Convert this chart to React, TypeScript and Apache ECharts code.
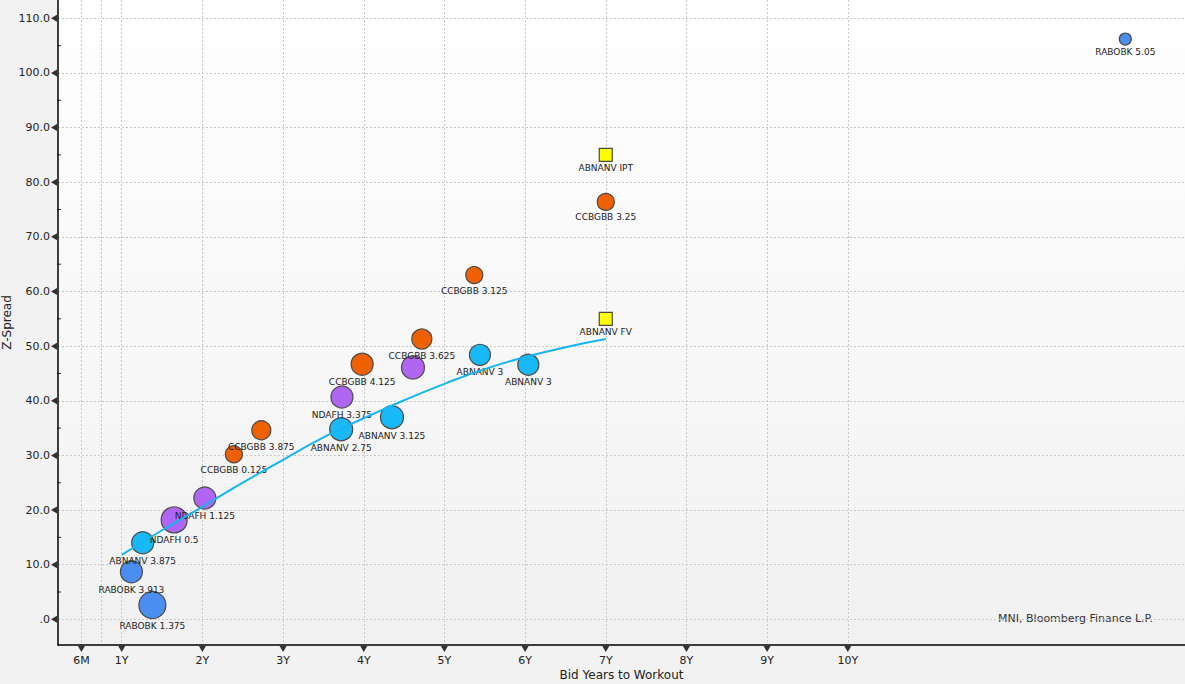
import React, { useEffect, useRef } from "react";
import * as echarts from "echarts";

// ---- axis ticks ----
const xLabelValues = [0.5, 1, 2, 3, 4, 5, 6, 7, 8, 9, 10];
const xLabelTexts = ["6M", "1Y", "2Y", "3Y", "4Y", "5Y", "6Y", "7Y", "8Y", "9Y", "10Y"];
const xGridValues = [0.5, 0.75, 1, 2, 3, 4, 5, 6, 7, 8, 9, 10];
const yTickValues = [0, 10, 20, 30, 40, 50, 60, 70, 80, 90, 100, 110];
const yMinorValues = [5, 15, 25, 35, 45, 55, 65, 75, 85, 95, 105];
const X_MIN = 0.21;
const X_MAX = 14.18;
const Y_MIN = -4.7;
const Y_MAX = 113.35;

// ---- bonds: [label, years, z-spread, bubble size] ----
const rabobk: [string, number, number, number][] = [
  ["RABOBK 5.05", 13.44, 106.2, 12],
  ["RABOBK 3.913", 1.12, 8.7, 22],
  ["RABOBK 1.375", 1.38, 2.6, 27],
];
const abnanv: [string, number, number, number][] = [
  ["ABNANV 3", 5.44, 48.4, 21],
  ["ABNANV 3", 6.04, 46.6, 21],
  ["ABNANV 3.125", 4.35, 37.0, 23],
  ["ABNANV 2.75", 3.72, 34.8, 23],
  ["ABNANV 3.875", 1.26, 14.0, 22],
];
const ndafh: [string, number, number, number][] = [
  ["", 4.61, 46.1, 23],
  ["NDAFH 3.375", 3.73, 40.7, 22],
  ["NDAFH 1.125", 2.03, 22.2, 22],
  ["NDAFH 0.5", 1.65, 18.2, 26],
];
const ccbgbb: [string, number, number, number][] = [
  ["CCBGBB 3.25", 7.0, 76.4, 17],
  ["CCBGBB 3.125", 5.37, 63.0, 17],
  ["CCBGBB 3.625", 4.72, 51.3, 20],
  ["CCBGBB 4.125", 3.98, 46.7, 22],
  ["CCBGBB 3.875", 2.73, 34.6, 19],
  ["CCBGBB 0.125", 2.39, 30.2, 17],
];
const pricing: [string, number, number, number][] = [
  ["ABNANV IPT", 7.0, 85.0, 13],
  ["ABNANV FV", 7.0, 55.0, 13],
];

// ---- fitted curve ----
const curveX = [1.0, 1.5, 2.0, 2.5, 3.0, 3.5, 4.0, 4.5, 5.0, 5.5, 6.0, 6.5, 7.0];
const curveY = [11.8, 16.3, 20.6, 25.0, 29.2, 33.3, 36.8, 40.1, 43.1, 45.8, 48.0, 49.8, 51.3];

const FONT = "DejaVu Sans";

function bubbleSeries(name: string, rows: [string, number, number, number][], color: string, symbol = "circle") {
  return {
    name,
    type: "scatter",
    symbol,
    data: rows.map((r) => ({
      name: r[0],
      value: [r[1], r[2]],
      symbolSize: r[3],
      label: { show: r[0] !== "" },
    })),
    itemStyle: { color, borderColor: "#4a4a4a", borderWidth: 1.2, opacity: 1 },
    label: {
      show: true,
      position: "bottom",
      distance: 2,
      formatter: (p: any) => p.name,
      fontFamily: FONT,
      fontSize: 9,
      color: "#222",
    },
    z: 3,
  };
}

export default function App() {
  const ref = useRef<HTMLDivElement>(null);
  useEffect(() => {
    if (!ref.current) return;
    const chart = echarts.init(ref.current, undefined, { renderer: "svg" });
    const option: any = {
      animation: false,
      backgroundColor: "#f2f2f2",
      textStyle: { fontFamily: FONT },
      grid: {
        left: 58,
        right: 0,
        top: 0,
        bottom: 39,
        containLabel: false,
        outerBoundsMode: "none",
        show: true,
        borderWidth: 0,
        backgroundColor: new echarts.graphic.LinearGradient(0, 0, 0, 1, [
          { offset: 0, color: "#ffffff" },
          { offset: 1, color: "#f1f1f1" },
        ]),
      },
      xAxis: {
        type: "value",
        min: X_MIN,
        max: X_MAX,
        name: "Bid Years to Workout",
        nameLocation: "middle",
        nameGap: 24,
        nameMoveOverlap: false,
        nameTextStyle: { fontFamily: FONT, fontSize: 12, color: "#222" },
        axisLine: { show: true, onZero: false, lineStyle: { color: "#000", width: 1.5 } },
        axisTick: { show: false, customValues: xGridValues },
        axisLabel: {
          customValues: xLabelValues,
          formatter: (v: number) => {
            const i = xLabelValues.indexOf(v);
            return i >= 0 ? xLabelTexts[i] : "";
          },
          margin: 10,
          fontFamily: FONT,
          fontSize: 11,
          color: "#222",
        },
        splitLine: { show: true, lineStyle: { color: "#c8c8c8", type: [2, 2], width: 1 } },
      },
      yAxis: {
        type: "value",
        min: Y_MIN,
        max: Y_MAX,
        name: "Z-Spread",
        nameLocation: "middle",
        nameGap: 45,
        nameMoveOverlap: false,
        nameTextStyle: { fontFamily: FONT, fontSize: 12, color: "#222" },
        axisLine: { show: true, onZero: false, lineStyle: { color: "#000", width: 1.5 } },
        axisTick: { show: false, customValues: yTickValues },
        axisLabel: {
          customValues: yTickValues,
          formatter: (v: number) => (v === 0 ? ".0" : v.toFixed(1)),
          margin: 8,
          fontFamily: FONT,
          fontSize: 11,
          color: "#222",
        },
        splitLine: { show: true, lineStyle: { color: "#c8c8c8", type: [2, 2], width: 1 } },
      },
      graphic: [
        {
          type: "text",
          right: 32,
          top: 613,
          style: {
            text: "MNI, Bloomberg Finance L.P.",
            fontFamily: FONT,
            fontSize: 11,
            fill: "#333",
          },
        },
      ],
      series: [
        {
          name: "Curve",
          type: "line",
          smooth: true,
          showSymbol: false,
          symbol: "none",
          data: curveX.map((x, i) => [x, curveY[i]]),
          lineStyle: { color: "#17b4f2", width: 2 },
          z: 4,
        },
        bubbleSeries("RABOBK", rabobk, "#4a8ef2"),
        bubbleSeries("ABNANV", abnanv, "#19b8f7"),
        bubbleSeries("NDAFH", ndafh, "#b066f2"),
        bubbleSeries("CCBGBB", ccbgbb, "#ee6000"),
        bubbleSeries("Pricing", pricing, "#ffff00", "rect"),
        {
          name: "xTickMarks",
          type: "scatter",
          silent: true,
          clip: false,
          symbol: "triangle",
          symbolRotate: 180,
          symbolSize: [7, 6],
          symbolOffset: [0, 4],
          itemStyle: { color: "#000" },
          data: xLabelValues.map((v) => [v, Y_MIN]),
          z: 5,
        },
        {
          name: "yTickMarks",
          type: "scatter",
          silent: true,
          clip: false,
          symbol: "triangle",
          symbolRotate: 90,
          symbolSize: [7, 6],
          symbolOffset: [-4, 0],
          itemStyle: { color: "#000" },
          data: yTickValues.map((v) => [X_MIN, v]),
          z: 5,
        },
        {
          name: "yMinorTicks",
          type: "scatter",
          silent: true,
          clip: false,
          symbol: "rect",
          symbolSize: [4, 1],
          symbolOffset: [1, 0],
          itemStyle: { color: "#000" },
          data: yMinorValues.map((v) => [X_MIN, v]),
          z: 5,
        },
      ],
    };
    chart.setOption(option);
    return () => chart.dispose();
  }, []);
  return (
    <div
      ref={ref}
      style={{ position: "fixed", left: 0, top: 0, width: "1185px", height: "684px" }}
    />
  );
}
